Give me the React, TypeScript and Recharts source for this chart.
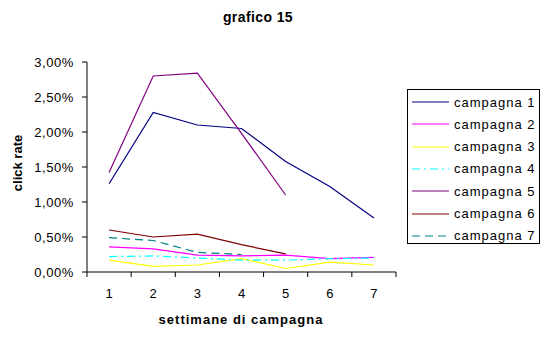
import { LineChart, Line, XAxis, YAxis } from 'recharts';

const weeks = [1, 2, 3, 4, 5, 6, 7];
const weekBounds = [0.5, 1.5, 2.5, 3.5, 4.5, 5.5, 6.5, 7.5];
const yTicks = [0, 0.005, 0.01, 0.015, 0.02, 0.025, 0.03];

// click rate per week (fractions), null where the campaign had ended
const campagna1 = [0.0126, 0.0228, 0.021, 0.0205, 0.0158, 0.0122, 0.0077];
const campagna2 = [0.0036, 0.0033, 0.0024, 0.0023, 0.0024, 0.0019, 0.0021];
const campagna3 = [0.0017, 0.0008, 0.001, 0.0019, 0.0005, 0.0014, 0.001];
const campagna4 = [0.0022, 0.0023, 0.002, 0.0017, 0.0017, 0.0019, 0.002];
const campagna5 = [0.0142, 0.028, 0.0284, 0.0198, 0.011, null, null];
const campagna6 = [0.006, 0.005, 0.0054, 0.0039, 0.0026, null, null];
const campagna7 = [0.0049, 0.0045, 0.0028, 0.0025, null, null, null];

const series = [
  { key: 'c1', name: 'campagna 1', values: campagna1, color: '#000080', dash: undefined },
  { key: 'c2', name: 'campagna 2', values: campagna2, color: '#FF00FF', dash: undefined },
  { key: 'c3', name: 'campagna 3', values: campagna3, color: '#FFFF00', dash: undefined },
  { key: 'c4', name: 'campagna 4', values: campagna4, color: '#00FFFF', dash: '8 4 2 4' },
  { key: 'c5', name: 'campagna 5', values: campagna5, color: '#800080', dash: undefined },
  { key: 'c6', name: 'campagna 6', values: campagna6, color: '#800000', dash: undefined },
  { key: 'c7', name: 'campagna 7', values: campagna7, color: '#008080', dash: '8 5' },
];

const data = weeks.map((w, i) => {
  const row: Record<string, number | null> = { week: w };
  series.forEach(s => { row[s.key] = s.values[i]; });
  return row;
});

const font = '"Liberation Sans", Arial, sans-serif';
const plotLeft = 87;
const plotRight = 396;
const halfBand = (plotRight - plotLeft) / weeks.length / 2;

const fmtPct = (v: number) => `${(v * 100).toFixed(2).replace('.', ',')}%`;

function WeekTick(props: any) {
  const { x, y, payload } = props;
  if (payload.value > 7) return null;
  return (
    <text x={x + halfBand} y={y + 10} dy="0.71em" textAnchor="middle" fontSize={13} fontFamily={font} fill="#000">
      {payload.value + 0.5}
    </text>
  );
}

export default function App() {
  return (
    <div style={{ position: 'absolute', left: 0, top: 0, width: 545, height: 339, background: '#fff', fontFamily: font }}>
      <div style={{ position: 'absolute', left: 0, width: 516, top: 9, textAlign: 'center', fontSize: 14, fontWeight: 'bold', letterSpacing: 0.4 }}>
        grafico 15
      </div>
      <div style={{ position: 'absolute', left: 17, top: 163, transform: 'translate(-50%, -50%) rotate(-90deg)', fontSize: 13, fontWeight: 'bold', whiteSpace: 'nowrap' }}>
        click rate
      </div>
      <div style={{ position: 'absolute', left: 91, width: 300, top: 312, textAlign: 'center', fontSize: 13, fontWeight: 'bold', letterSpacing: 1, whiteSpace: 'nowrap' }}>
        settimane di campagna
      </div>
      <LineChart width={545} height={339} data={data} margin={{ top: 62, right: 149, bottom: 0, left: 0 }}>
        <XAxis
          dataKey="week"
          type="number"
          domain={[0.5, 7.5]}
          ticks={weekBounds}
          interval={0}
          tick={<WeekTick />}
          tickSize={5}
          height={67}
          stroke="#000"
          allowDecimals
        />
        <YAxis
          domain={[0, 0.03]}
          ticks={yTicks}
          tickFormatter={fmtPct}
          width={87}
          tickSize={5}
          tickMargin={8}
          stroke="#000"
          tick={{ fill: '#000', fontSize: 13, fontFamily: font, letterSpacing: 0.6 }}
        />
        {series.map(s => (
          <Line
            key={s.key}
            dataKey={s.key}
            name={s.name}
            stroke={s.color}
            strokeDasharray={s.dash}
            strokeWidth={1.2}
            dot={false}
            type="linear"
            isAnimationActive={false}
          />
        ))}
      </LineChart>
      <div style={{ position: 'absolute', left: 407, top: 89, width: 131, height: 153, border: '1px solid #000', background: '#fff' }}>
        {series.map((s, i) => (
          <div key={s.key} style={{ position: 'absolute', left: 0, top: 4 + i * 22.3, height: 16, display: 'flex', alignItems: 'center' }}>
            <svg width={42} height={16} style={{ marginLeft: 4 }}>
              <line x1={0} x2={37} y1={8} y2={8} stroke={s.color} strokeWidth={1.2} strokeDasharray={s.dash} />
            </svg>
            <span style={{ fontSize: 13, letterSpacing: 1, whiteSpace: 'nowrap' }}>{s.name}</span>
          </div>
        ))}
      </div>
    </div>
  );
}
